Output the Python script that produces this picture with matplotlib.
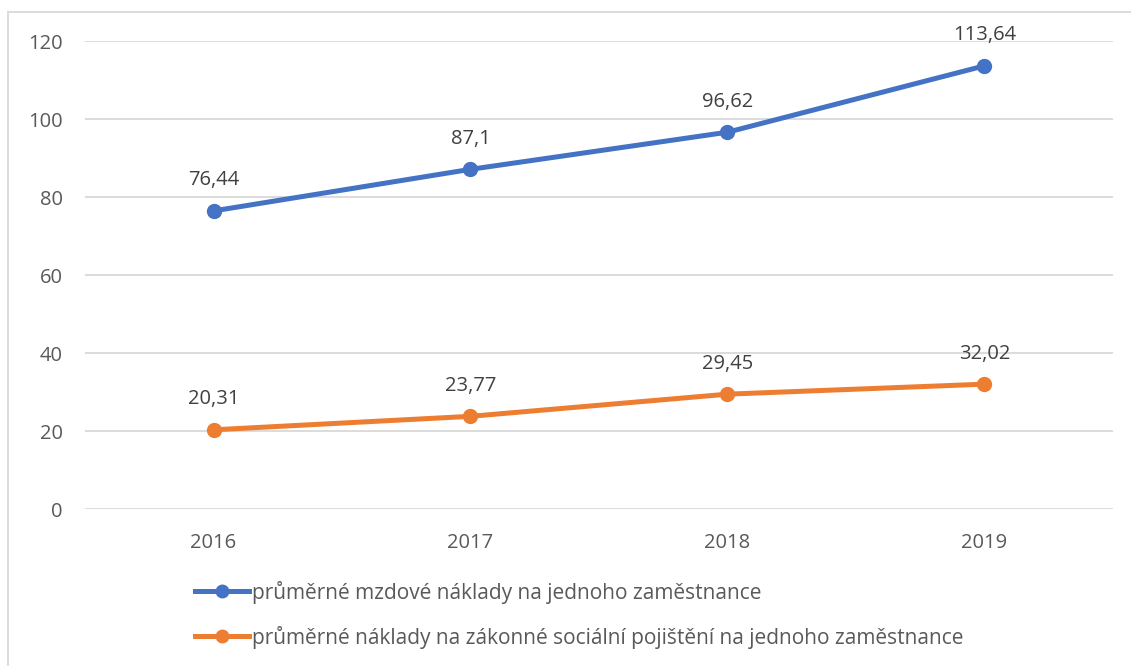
import matplotlib.pyplot as plt
from matplotlib.patches import Rectangle

# data
years = ['2016', '2017', '2018', '2019']
mzdove = [76.44, 87.1, 96.62, 113.64]
pojisteni = [20.31, 23.77, 29.45, 32.02]
labels_mzdove = ['76,44', '87,1', '96,62', '113,64']
labels_pojisteni = ['20,31', '23,77', '29,45', '32,02']
series_names = ['průměrné mzdové náklady na jednoho zaměstnance',
                'průměrné náklady na zákonné sociální pojištění na jednoho zaměstnance']

plt.rcParams['font.family'] = ['Open Sans', 'DejaVu Sans']
text_col = '#595959'
blue = '#4472C4'
orange = '#ED7D31'
fs = 14.5

fig = plt.figure(figsize=(11.31, 6.66), dpi=100)
ax = fig.add_axes([0.0752, 0.2357, 0.9088, 0.7027])

x = range(len(years))
l1, = ax.plot(x, mzdove, color=blue, lw=3.6, marker='o', ms=10, label=series_names[0])
l2, = ax.plot(x, pojisteni, color=orange, lw=3.6, marker='o', ms=10, label=series_names[1])

for xi, v, t in zip(x, mzdove, labels_mzdove):
    ax.annotate(t, (xi, v), xytext=(0, 22), textcoords='offset points',
                ha='center', va='center', fontsize=fs, color='#404040')
for xi, v, t in zip(x, pojisteni, labels_pojisteni):
    ax.annotate(t, (xi, v), xytext=(0, 22), textcoords='offset points',
                ha='center', va='center', fontsize=fs, color='#404040')

ax.set_xlim(-0.5, 3.5)
ax.set_ylim(0, 120)
ax.set_yticks(range(0, 121, 20))
ax.set_xticks(list(x))
ax.set_xticklabels(years)
ax.grid(axis='y', color='#D9D9D9', lw=1.3)
ax.set_axisbelow(True)
for s in ax.spines.values():
    s.set_visible(False)
ax.tick_params(length=0, labelsize=fs, labelcolor=text_col, pad=16)
ax.tick_params(axis='x', pad=17)

fig.legend(handles=[l1, l2], loc='upper left', bbox_to_anchor=(0.1724, 0.128),
           frameon=False, fontsize=15, labelcolor=text_col,
           handlelength=2.6, handletextpad=0.15, labelspacing=1.05,
           borderaxespad=0, borderpad=0, markerscale=0.9)

# chart border
fig.add_artist(Rectangle((8 / 1131, -0.1), 1.2, 0.1 + (666 - 12) / 666,
                         transform=fig.transFigure, fill=False,
                         edgecolor='#D9D9D9', lw=1.3))

fig.savefig('out.png', dpi=100)
